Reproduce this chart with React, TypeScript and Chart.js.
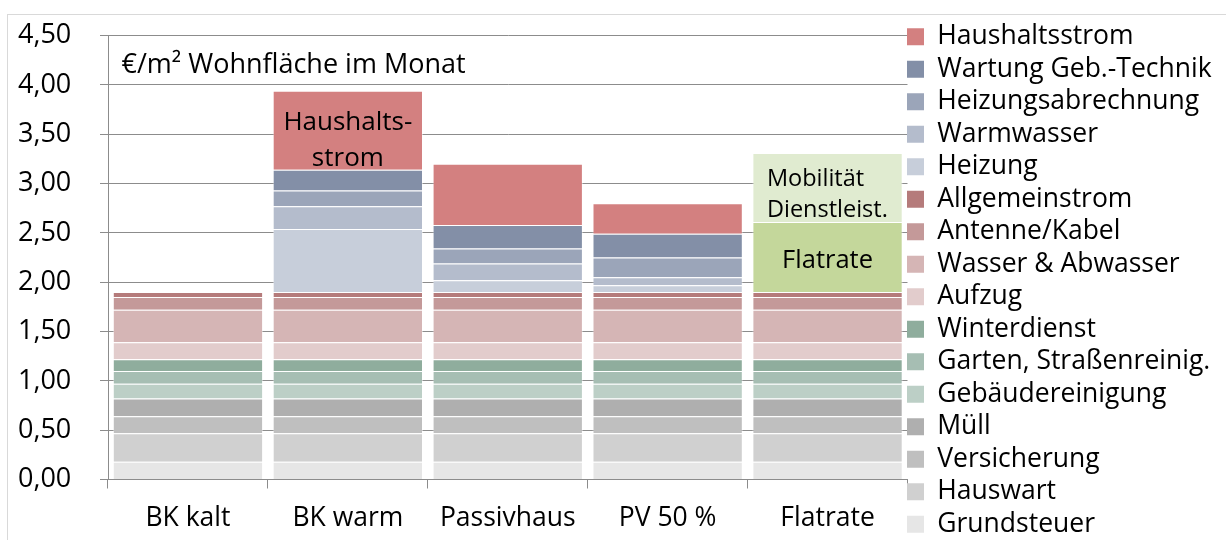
import React, { useEffect, useRef } from "react";
import { Chart, registerables } from "chart.js";

Chart.register(...registerables);

const categories = ["BK kalt", "BK warm", "Passivhaus", "PV 50 %", "Flatrate"];

const grundsteuer = [0.18, 0.18, 0.18, 0.18, 0.18];
const hauswart = [0.29, 0.29, 0.29, 0.29, 0.29];
const versicherung = [0.17, 0.17, 0.17, 0.17, 0.17];
const muell = [0.18, 0.18, 0.18, 0.18, 0.18];
const gebaeudereinigung = [0.15, 0.15, 0.15, 0.15, 0.15];
const garten = [0.13, 0.13, 0.13, 0.13, 0.13];
const winterdienst = [0.12, 0.12, 0.12, 0.12, 0.12];
const aufzug = [0.17, 0.17, 0.17, 0.17, 0.17];
const wasser = [0.33, 0.33, 0.33, 0.33, 0.33];
const antenne = [0.13, 0.13, 0.13, 0.13, 0.13];
const allgemeinstrom = [0.05, 0.05, 0.05, 0.05, 0.05];
const heizung = [null, 0.64, 0.12, 0.07, null];
const warmwasser = [null, 0.23, 0.17, 0.08, null];
const heizungsabrechnung = [null, 0.16, 0.15, 0.2, null];
const wartung = [null, 0.21, 0.24, 0.24, null];
const haushaltsstrom = [null, 0.8, 0.62, 0.31, null];
const flatrate = [null, null, null, null, 0.71];
const mobilitaet = [null, null, null, null, 0.7];

const yMin = 0;
const yMax = 4.5;
const yStep = 0.5;

const unitText = "€/m² Wohnfläche im Monat";
const haushaltLabel = ["Haushalts-", "strom"];
const flatrateLabel = "Flatrate";
const mobilLabel = ["Mobilität", "Dienstleist."];

const series = [
  { label: "Grundsteuer", data: grundsteuer, color: "#E6E6E6" },
  { label: "Hauswart", data: hauswart, color: "#D0D0D0" },
  { label: "Versicherung", data: versicherung, color: "#BFBFBF" },
  { label: "Müll", data: muell, color: "#AFAFAF" },
  { label: "Gebäudereinigung", data: gebaeudereinigung, color: "#BCCFC6" },
  { label: "Garten, Straßenreinig.", data: garten, color: "#A6BEB3" },
  { label: "Winterdienst", data: winterdienst, color: "#8FAD9D" },
  { label: "Aufzug", data: aufzug, color: "#E2CCCC" },
  { label: "Wasser & Abwasser", data: wasser, color: "#D5B5B5" },
  { label: "Antenne/Kabel", data: antenne, color: "#C49999" },
  { label: "Allgemeinstrom", data: allgemeinstrom, color: "#B57B7B" },
  { label: "Heizung", data: heizung, color: "#C7CEDA" },
  { label: "Warmwasser", data: warmwasser, color: "#B4BCCC" },
  { label: "Heizungsabrechnung", data: heizungsabrechnung, color: "#9BA5B9" },
  { label: "Wartung Geb.-Technik", data: wartung, color: "#838FA7" },
  { label: "Haushaltsstrom", data: haushaltsstrom, color: "#D38080" },
  { label: "Flatrate", data: flatrate, color: "#C4D79B" },
  { label: "Mobilität Dienstleist.", data: mobilitaet, color: "#E0EBD0" },
];

const FONT = "'Open Sans', 'Noto Sans', sans-serif";

const textPlugin = {
  id: "segmentTexts",
  afterLayout(chart: any) {
    if (chart.legend) {
      chart.legend.left -= 6.5;
      chart.legend.right -= 6.5;
      chart.legend.top += 2.5;
      chart.legend.bottom += 2.5;
    }
  },
  afterDatasetsDraw(chart: any) {
    const ctx = chart.ctx;
    const area = chart.chartArea;
    ctx.save();
    ctx.fillStyle = "#000";
    ctx.textBaseline = "alphabetic";
    ctx.font = `27px ${FONT}`;
    ctx.textAlign = "left";
    ctx.fillText(unitText, area.left + 13.5, area.top + 37.5);

    const hsIdx = series.findIndex((s) => s.label === "Haushaltsstrom");
    const hsEl = chart.getDatasetMeta(hsIdx).data[1];
    if (hsEl) {
      ctx.textAlign = "center";
      ctx.font = `26px ${FONT}`;
      ctx.fillText(haushaltLabel[0], hsEl.x, hsEl.y + 39.5);
      ctx.fillText(haushaltLabel[1], hsEl.x, hsEl.y + 75.5);
    }
    const flIdx = series.findIndex((s) => s.label === "Flatrate");
    const flEl = chart.getDatasetMeta(flIdx).data[4];
    if (flEl) {
      ctx.textAlign = "center";
      ctx.font = `25.5px ${FONT}`;
      ctx.fillText(flatrateLabel, flEl.x, flEl.y + 46.5);
    }
    const moIdx = series.findIndex((s) => s.label === "Mobilität Dienstleist.");
    const moEl = chart.getDatasetMeta(moIdx).data[4];
    if (moEl) {
      ctx.textAlign = "left";
      ctx.font = `23.5px ${FONT}`;
      const left = moEl.x - moEl.width / 2 + 14.5;
      ctx.fillText(mobilLabel[0], left, moEl.y + 32.8);
      ctx.fillText(mobilLabel[1], left, moEl.y + 63.8);
    }
    ctx.restore();
  },
};

export default function App() {
  const ref = useRef<HTMLCanvasElement | null>(null);

  useEffect(() => {
    if (!ref.current) return;
    Chart.defaults.font.family = FONT;
    Chart.defaults.color = "#000";
    const chart = new Chart(ref.current, {
      type: "bar",
      data: {
        labels: categories,
        datasets: series.map((s) => ({
          label: s.label,
          data: s.data as any,
          backgroundColor: s.color,
          borderColor: "rgba(255,255,255,0.45)",
          borderWidth: { top: 1, bottom: 0, left: 1, right: 1 },
          borderSkipped: false,
          barPercentage: 0.94,
          categoryPercentage: 1.0,
        })),
      },
      options: {
        responsive: false,
        animation: false,
        events: [],
        layout: { padding: { left: 10, top: 0, right: 0, bottom: 0 } },
        scales: {
          x: {
            stacked: true,
            offset: true,
            grid: {
              display: true,
              offset: true,
              drawOnChartArea: false,
              drawTicks: true,
              tickLength: 9,
              color: "#8C8C8C",
            },
            border: { display: true, color: "#8C8C8C", width: 1 },
            ticks: {
              font: { size: 26.5 },
              color: "#000",
              padding: 14,
              maxRotation: 0,
              autoSkip: false,
            },
            afterFit: (scale: any) => {
              scale.height = 80.5;
            },
          },
          y: {
            stacked: true,
            min: yMin,
            max: yMax,
            grid: {
              color: "#8C8C8C",
              tickLength: 8,
              drawTicks: true,
            },
            border: { display: true, color: "#8C8C8C", width: 1 },
            ticks: {
              stepSize: yStep,
              font: { size: 27, lineHeight: "41px" },
              color: "#000",
              padding: 0,
              crossAlign: "far",
              callback: (v: any) => Number(v).toFixed(2).replace(".", ","),
            },
            afterFit: (scale: any) => {
              scale.width = 90;
            },
          },
        },
        plugins: {
          tooltip: { enabled: false },
          legend: {
            position: "right",
            align: "start",
            maxWidth: 318.5,
            labels: {
              boxWidth: 17,
              boxHeight: 17,
              padding: 6,
              font: { size: 26.5 },
              color: "#000",
              filter: (item: any) => item.datasetIndex < 16,
              sort: (a: any, b: any) => b.datasetIndex - a.datasetIndex,
              generateLabels: (c: any) =>
                (Chart.defaults.plugins.legend.labels as any)
                  .generateLabels(c)
                  .map((it: any) => ({ ...it, lineWidth: 0, strokeStyle: "rgba(0,0,0,0)" })),
            },
          },
        },
      },
      plugins: [textPlugin],
    });
    return () => chart.destroy();
  }, []);

  return (
    <div
      style={{
        position: "fixed",
        left: 7,
        top: 14,
        width: 1240,
        height: 560,
        border: "1px solid #D9D9D9",
        overflow: "hidden",
        background: "#fff",
      }}
    >
      <canvas
        ref={ref}
        width={1218}
        height={545}
        style={{ position: "absolute", left: 0, top: 0, width: 1218, height: 545 }}
      />
    </div>
  );
}
